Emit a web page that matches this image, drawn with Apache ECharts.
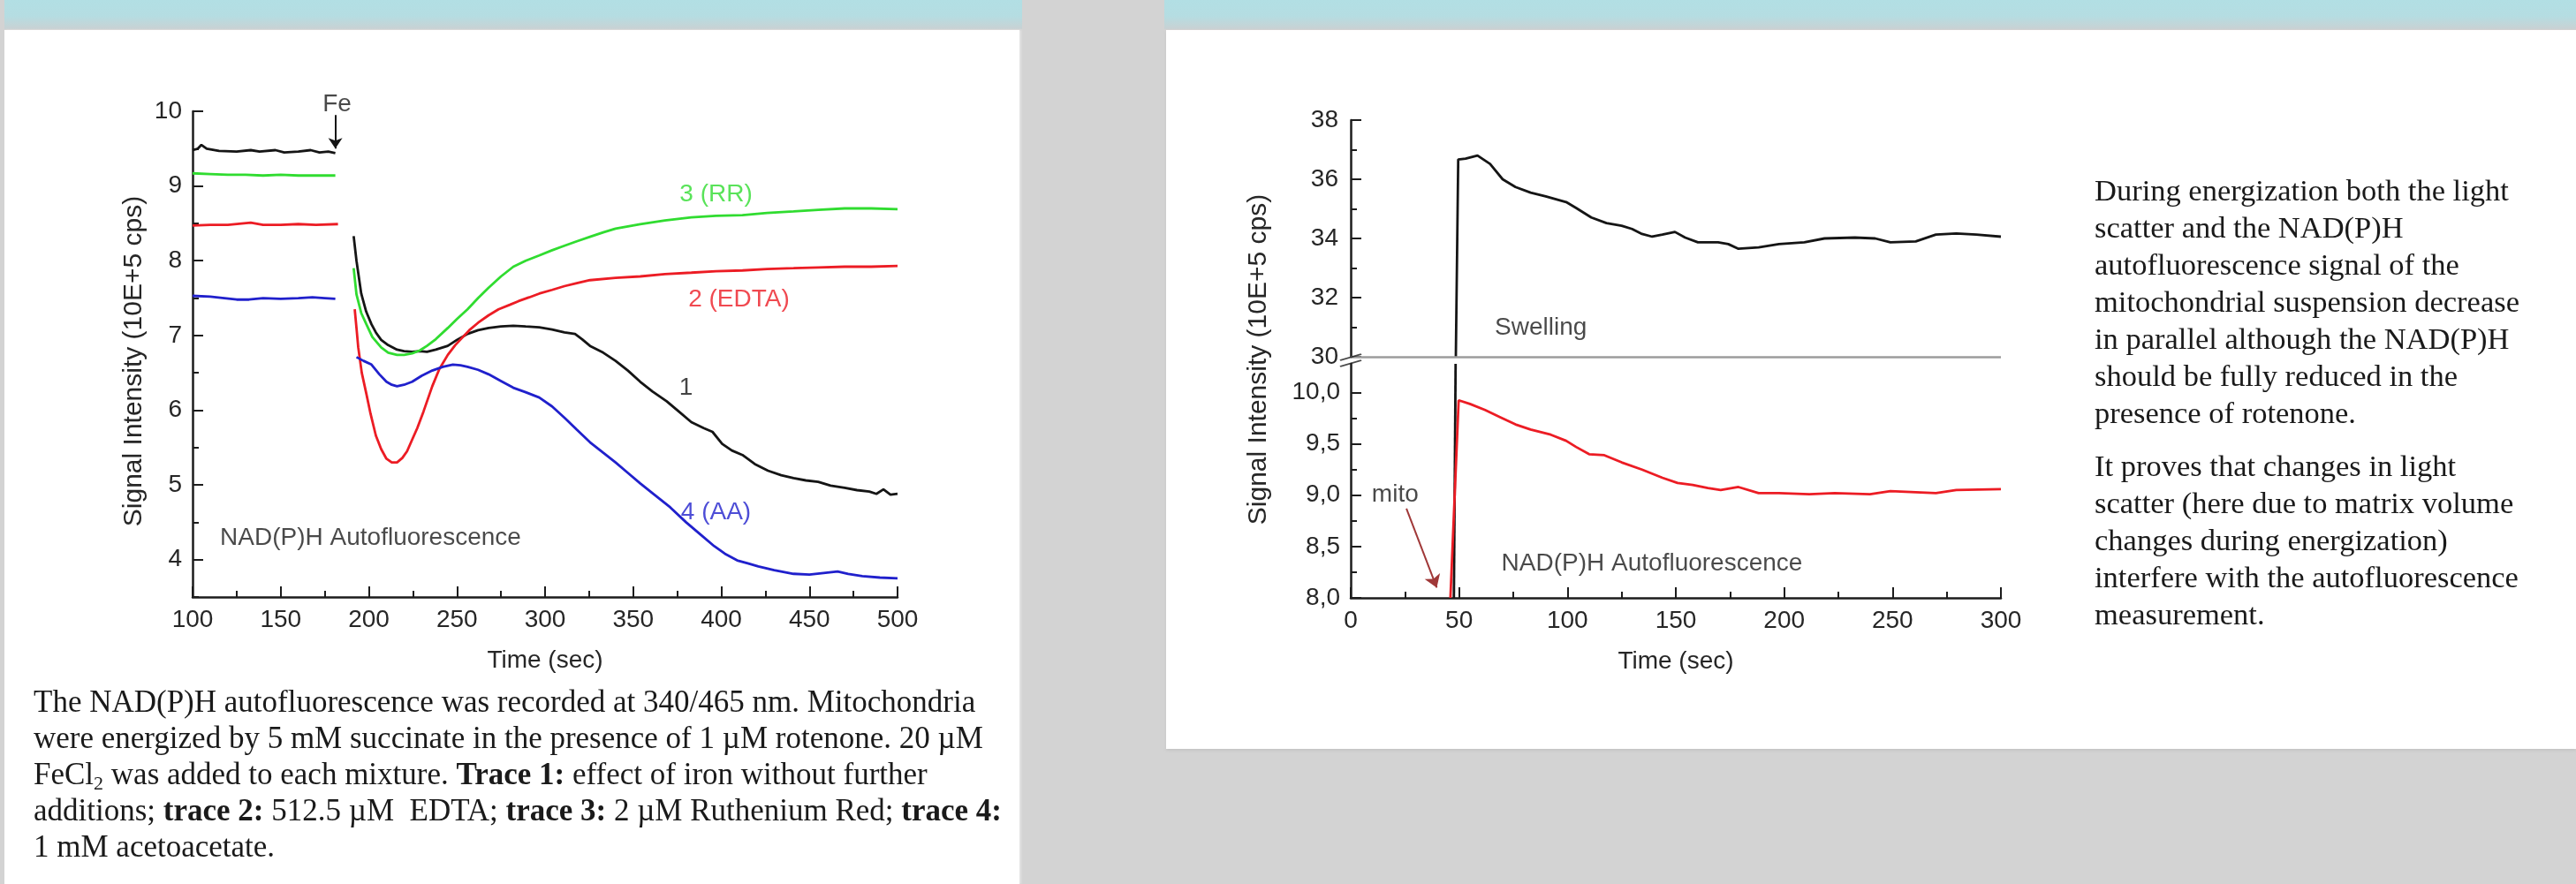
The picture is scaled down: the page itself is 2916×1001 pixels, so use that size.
<!DOCTYPE html>
<html><head><meta charset="utf-8">
<style>
html,body{margin:0;padding:0;background:#d3d3d3;overflow:hidden;}
#wrap{position:relative;width:2916px;height:1001px;}
.bg{position:absolute;}
#chart{position:absolute;left:0;top:0;width:2916px;height:1001px;}
</style>
<script src="https://cdn.jsdelivr.net/npm/echarts@6/dist/echarts.min.js"></script>
</head><body>
<div id="wrap">
  <div class="bg" style="left:5px;top:0;width:1152px;height:33px;background:linear-gradient(#b2dfe4,#b5dde2 55%,#c9d1d3);"></div>
  <div class="bg" style="left:1318px;top:0;width:1598px;height:33px;background:linear-gradient(#b2dfe4,#b5dde2 55%,#c9d1d3);"></div>
  <div class="bg" style="left:5px;top:34px;width:1149px;height:967px;background:#fff;box-shadow:2px 0 2px #e4e4e4;"></div>
  <div class="bg" style="left:1320px;top:34px;width:1596px;height:814px;background:#fff;box-shadow:0 2px 3px #c4c4c4;"></div>
  <div id="chart"></div>
</div>
<script>
// ---------- Left chart data (Time sec, Signal Intensity 10E+5 cps) ----------
const leftYMajor = [4, 5, 6, 7, 8, 9, 10];
const leftYMinor = [3.5, 4.5, 5.5, 6.5, 7.5, 8.5, 9.5];

const trace1Pre = [[100,9.48],[103,9.5],[105,9.55],[108,9.5],[115,9.47],[125,9.46],[133,9.48],[138,9.46],[147,9.48],[152,9.45],[160,9.46],[167,9.48],[172,9.45],[177,9.46],[181,9.44]];
const trace1Post = [[191.4,8.33],[193,8.0],[195.7,7.56],[198.5,7.32],[201.5,7.15],[204,7.04],[207,6.94],[211,6.87],[216,6.81],[220,6.79],[224.6,6.78],[229,6.79],[233,6.78],[238,6.81],[244.8,6.86],[250,6.94],[256,7.02],[262,7.07],[268,7.10],[275,7.12],[282,7.13],[289,7.12],[296.7,7.11],[304,7.08],[311,7.04],[317,7.02],[321,6.95],[325.5,6.86],[333,6.77],[340,6.66],[347,6.53],[354,6.38],[361,6.25],[369,6.12],[376,5.98],[383,5.84],[390,5.76],[395,5.71],[400.5,5.55],[406,5.46],[412,5.40],[419,5.28],[426.5,5.19],[434,5.13],[441,5.09],[448,5.06],[455,5.04],[462,4.99],[470,4.96],[477,4.93],[484,4.91],[488,4.88],[492,4.94],[496,4.87],[500,4.88]];

const trace2Pre = [[100,8.47],[110,8.48],[120,8.48],[133,8.51],[140,8.48],[150,8.48],[160,8.49],[170,8.48],[182.5,8.49]];
const trace2Post = [[192,7.35],[193,7.1],[194,6.84],[196,6.5],[198.6,6.22],[201,5.95],[204,5.66],[207,5.48],[210,5.35],[213,5.30],[216,5.30],[219,5.36],[221.7,5.45],[224.5,5.6],[227.5,5.76],[231,5.98],[236,6.32],[240,6.55],[244.8,6.74],[249,6.87],[253,6.97],[257,7.07],[262,7.17],[268,7.27],[273.6,7.35],[280,7.41],[285,7.46],[291,7.51],[296.7,7.56],[304,7.61],[311,7.66],[318,7.70],[325.5,7.74],[340,7.77],[354,7.79],[368,7.82],[383,7.84],[397,7.86],[412,7.87],[426,7.89],[441,7.90],[455,7.91],[470,7.92],[485,7.92],[500,7.93]];

const trace3Pre = [[100,9.17],[110,9.16],[120,9.15],[130,9.15],[140,9.14],[150,9.15],[160,9.14],[170,9.14],[181,9.14]];
const trace3Post = [[191.4,7.9],[193,7.55],[195.7,7.3],[198.6,7.15],[202,6.98],[207,6.84],[211,6.77],[216,6.74],[220,6.74],[224.6,6.76],[229,6.80],[233,6.86],[238,6.95],[244.8,7.10],[250,7.22],[256,7.35],[262,7.50],[268,7.64],[275,7.79],[282,7.92],[289,8.00],[296.7,8.07],[304,8.14],[311,8.20],[318,8.26],[325.5,8.32],[333,8.38],[340,8.43],[347,8.46],[354,8.49],[368,8.54],[383,8.58],[397,8.60],[412,8.61],[426,8.64],[441,8.66],[455,8.68],[470,8.70],[485,8.70],[500,8.69]];

const trace4Pre = [[100,7.53],[110,7.52],[118,7.5],[125,7.48],[132,7.48],[140,7.5],[150,7.49],[160,7.5],[168,7.51],[175,7.5],[181,7.49]];
const trace4Post = [[193,6.71],[197,6.66],[201.5,6.61],[206,6.48],[210,6.38],[213,6.34],[216,6.32],[220,6.34],[224.6,6.38],[230,6.46],[236,6.53],[242,6.58],[247.7,6.61],[252,6.60],[256,6.58],[262,6.54],[268,6.48],[275,6.39],[282,6.30],[289,6.24],[296.7,6.17],[304,6.05],[311,5.90],[318,5.74],[325.5,5.57],[333,5.43],[340,5.30],[347,5.16],[354,5.02],[362,4.87],[371,4.70],[380,4.50],[389,4.32],[396,4.18],[402,4.08],[409,3.99],[415,3.95],[421,3.91],[430,3.86],[441,3.81],[450,3.80],[458,3.82],[466,3.84],[472,3.81],[480,3.78],[490,3.76],[500,3.75]];

const feArrow = [[181, 9.95], [181, 9.5]];
const leftNoteText = ['3 (RR)', '2 (EDTA)', '1', '4 (AA)', 'NAD(P)H Autofluorescence', 'Fe'];
const leftNoteX = [397, 410, 380, 397, 201, 182];
const leftNoteY = [8.89, 7.48, 6.30, 4.63, 4.29, 10.09];

// ---------- Right chart data ----------
const rightLowMajor = [8.0, 8.5, 9.0, 9.5, 10.0];
const rightLowMinor = [8.25, 8.75, 9.25, 9.75];

const swellingUpper = [[48.5,30],[49.6,36.67],[53,36.7],[58.5,36.8],[64.3,36.52],[70.1,36.0],[76,35.74],[83,35.55],[90,35.42],[99.4,35.23],[104,35.03],[111,34.71],[118,34.52],[125,34.43],[129.8,34.32],[134.4,34.15],[139.1,34.06],[143.8,34.13],[149.6,34.22],[154.3,34.03],[160.2,33.87],[169.5,33.87],[174.2,33.81],[178.9,33.65],[188.2,33.70],[197.6,33.81],[209.3,33.87],[218.6,34.0],[232.6,34.03],[242,34.0],[249,33.87],[260.7,33.9],[270,34.13],[279.4,34.17],[288.7,34.13],[300,34.06]];
const swellingLower = [[47.6,8.0],[48.4,10.28]];
const nadphRight = [[46,8.0],[49.8,9.925],[55,9.89],[62,9.83],[69,9.76],[76,9.69],[83,9.64],[92.3,9.59],[99.4,9.53],[104,9.47],[110,9.40],[117,9.39],[125,9.32],[134.4,9.25],[143.8,9.17],[150.8,9.12],[157.8,9.10],[164.8,9.07],[170.7,9.05],[178.9,9.08],[188.2,9.02],[197.6,9.02],[211.6,9.01],[223.3,9.02],[239.6,9.01],[249,9.04],[260.7,9.03],[270,9.02],[279.4,9.05],[300,9.06]];
const breakValue = 30;
const mitoArrow = [[25.7, 8.87], [39.7, 8.1]];
const rightUpperNoteText = ['Swelling'];
const rightUpperNoteX = [87.7];
const rightUpperNoteY = [30.97];
const rightLowerNoteText = ['NAD(P)H Autofluorescence', 'mito'];
const rightLowerNoteX = [139, 20.5];
const rightLowerNoteY = [8.33, 9.0];

// ---------- Text ----------
const captionLines = [
  'The NAD(P)H autofluorescence was recorded at 340/465 nm. Mitochondria',
  'were energized by 5 mM succinate in the presence of 1 \u00b5M rotenone. 20 \u00b5M',
  'FeCl{s|2} was added to each mixture. {b|Trace 1:} effect of iron without further',
  'additions; {b|trace 2:} 512.5 \u00b5M  EDTA; {b|trace 3:} 2 \u00b5M Ruthenium Red; {b|trace 4:}',
  '1 mM acetoacetate.'
];
const rightPara1 = ['During energization both the light','scatter and the NAD(P)H','autofluorescence signal of the','mitochondrial suspension decrease','in parallel although the NAD(P)H','should be fully reduced in the','presence of rotenone.'];
const rightPara2 = ['It proves that changes in light','scatter (here due to matrix volume','changes during energization)','interfere with the autofluorescence','measurement.'];
const yName = 'Signal Intensity (10E+5 cps)';

// ---------- Styles ----------
const SANS = '"Liberation Sans", Arial, sans-serif';
const SERIF = '"Liberation Serif", "Times New Roman", serif';
const INK = '#1c1c1c';
const cBlack = '#151515', cRed = '#ec1c24', cGreen = '#30dc30', cBlue = '#2020cc';
const lbl = {fontFamily: SANS, fontSize: 28, color: '#262626'};

function xAxisOpt(grid, min, max) {
  return {
    gridIndex: grid, type: 'value', position: 'bottom', min: min, max: max, interval: 50,
    axisLine: {show: true, onZero: false, lineStyle: {color: INK, width: 2.5}},
    axisTick: {show: true, inside: true, length: 12, lineStyle: {color: INK, width: 2}},
    minorTick: {show: true, splitNumber: 2, length: 7, lineStyle: {color: INK, width: 2}},
    splitLine: {show: false}, minorSplitLine: {show: false},
    axisLabel: Object.assign({margin: 12}, lbl),
    name: 'Time (sec)', nameLocation: 'middle', nameGap: 58,
    nameTextStyle: {fontFamily: SANS, fontSize: 28, color: '#262626'}
  };
}
function yAxisOpt(grid, min, max, extra) {
  return Object.assign({
    gridIndex: grid, type: 'value', position: 'left', offset: 0, min: min, max: max,
    axisLine: {show: true, onZero: false, lineStyle: {color: INK, width: 2.5}},
    splitLine: {show: false}, minorSplitLine: {show: false}
  }, extra);
}
function lineSeries(data, color, xi, yi, extra) {
  return Object.assign({
    type: 'line', data: data, xAxisIndex: xi, yAxisIndex: yi,
    showSymbol: false, symbol: 'none', silent: true,
    lineStyle: {color: color, width: 2.8}, itemStyle: {color: color}
  }, extra || {});
}
function notes(texts, xs, ys, colors, xi, yi) {
  return {
    type: 'scatter', xAxisIndex: xi, yAxisIndex: yi, symbolSize: 0, clip: false, silent: true, z: 5,
    data: texts.map((t, i) => ({
      value: [xs[i], ys[i]],
      label: {show: true, position: 'inside', formatter: t, fontFamily: SANS, fontSize: 28, color: colors[i]}
    }))
  };
}
function arrowLine(coords, color, size) {
  return {
    silent: true, symbol: ['none', 'arrow'], symbolSize: size, label: {show: false},
    lineStyle: {color: color, width: 2, type: 'solid'},
    data: [[{coord: coords[0]}, {coord: coords[1]}]]
  };
}

const chart = echarts.init(document.getElementById('chart'));
chart.setOption({
  animation: false,
  backgroundColor: 'transparent',
  grid: [
    {left: 218, top: 126, width: 798, height: 550},
    {left: 1529, top: 136, width: 736, height: 268},
    {left: 1529, top: 412, width: 736, height: 265}
  ],
  xAxis: [
    xAxisOpt(0, 100, 500),
    {gridIndex: 1, type: 'value', min: 0, max: 300, show: false},
    xAxisOpt(2, 0, 300)
  ],
  yAxis: [
    yAxisOpt(0, 3.5, 10, {
      axisTick: {show: true, inside: true, length: 12, customValues: leftYMajor, lineStyle: {color: INK, width: 2}},
      axisLabel: Object.assign({margin: 12, customValues: leftYMajor}, lbl)
    }),
    yAxisOpt(0, 3.5, 10, {
      axisLine: {show: false},
      axisTick: {show: true, inside: true, length: 7, customValues: leftYMinor, lineStyle: {color: INK, width: 2}},
      axisLabel: {show: false}
    }),
    yAxisOpt(1, 30, 38, {
      interval: 2,
      axisTick: {show: true, inside: true, length: 12, lineStyle: {color: INK, width: 2}},
      minorTick: {show: true, splitNumber: 2, length: 7, lineStyle: {color: INK, width: 2}},
      axisLabel: Object.assign({margin: 14}, lbl)
    }),
    yAxisOpt(2, 8, 10.28, {
      axisTick: {show: true, inside: true, length: 12, customValues: rightLowMajor, lineStyle: {color: INK, width: 2}},
      axisLabel: Object.assign({margin: 12, customValues: rightLowMajor,
        formatter: v => Number(v).toFixed(1).replace('.', ',')}, lbl)
    }),
    yAxisOpt(2, 8, 10.28, {
      axisLine: {show: false},
      axisTick: {show: true, inside: true, length: 7, customValues: rightLowMinor, lineStyle: {color: INK, width: 2}},
      axisLabel: {show: false}
    })
  ],
  series: [
    lineSeries(trace1Pre, cBlack, 0, 0, {markLine: arrowLine(feArrow, cBlack, 12)}),
    lineSeries(trace1Post, cBlack, 0, 0),
    lineSeries(trace2Pre, cRed, 0, 0),
    lineSeries(trace2Post, cRed, 0, 0),
    lineSeries(trace3Pre, cGreen, 0, 0),
    lineSeries(trace3Post, cGreen, 0, 0),
    lineSeries(trace4Pre, cBlue, 0, 0),
    lineSeries(trace4Post, cBlue, 0, 0),
    notes(leftNoteText, leftNoteX, leftNoteY, [cGreen, cRed, cBlack, cBlue, '#1c1c1c', '#1c1c1c'], 0, 0),

    lineSeries(swellingUpper, cBlack, 1, 2, {
      markLine: {silent: true, symbol: ['none', 'none'], label: {show: false},
        lineStyle: {color: '#9c9c9c', width: 2.5, type: 'solid'}, data: [{yAxis: breakValue}]}
    }),
    lineSeries(swellingLower, cBlack, 2, 3, {clip: true}),
    lineSeries(nadphRight, cRed, 2, 3, {markLine: arrowLine(mitoArrow, '#a03838', 14)}),
    {
      type: 'scatter', xAxisIndex: 1, yAxisIndex: 2, clip: false, silent: true, z: 6,
      data: [[0, breakValue]],
      symbol: 'path://M0,9 L24,2 M0,16 L24,9', symbolKeepAspect: false,
      symbolSize: [24, 14], symbolOffset: [0, 4],
      itemStyle: {color: 'rgba(0,0,0,0)', borderColor: INK, borderWidth: 2}
    },
    notes(rightUpperNoteText, rightUpperNoteX, rightUpperNoteY, ['#1c1c1c'], 1, 2),
    notes(rightLowerNoteText, rightLowerNoteX, rightLowerNoteY, ['#1c1c1c', '#1c1c1c'], 2, 3)
  ],
  graphic: [
    {type: 'text', x: 152, y: 409, rotation: Math.PI / 2, silent: true,
     style: {text: yName, fontFamily: SANS, fontSize: 30, fill: '#262626', align: 'center', verticalAlign: 'middle'}},
    {type: 'text', x: 1425, y: 407, rotation: Math.PI / 2, silent: true,
     style: {text: yName, fontFamily: SANS, fontSize: 30, fill: '#262626', align: 'center', verticalAlign: 'middle'}},
    {type: 'text', x: 38, y: 776, silent: true,
     style: {text: captionLines.join('\n'), fontFamily: SERIF, fontSize: 35, lineHeight: 41, fill: '#1a1a1a',
       rich: {
         b: {fontFamily: SERIF, fontSize: 35, fontWeight: 'bold', lineHeight: 41, fill: '#1a1a1a'},
         s: {fontFamily: SERIF, fontSize: 22, lineHeight: 41, verticalAlign: 'bottom', fill: '#1a1a1a'}
       }}},
    {type: 'text', x: 2371, y: 197, silent: true,
     style: {text: rightPara1.join('\n'), fontFamily: SERIF, fontSize: 34.5, lineHeight: 42, fill: '#1a1a1a'}},
    {type: 'text', x: 2371, y: 509, silent: true,
     style: {text: rightPara2.join('\n'), fontFamily: SERIF, fontSize: 34.5, lineHeight: 42, fill: '#1a1a1a'}}
  ]
});
</script>
</body></html>
